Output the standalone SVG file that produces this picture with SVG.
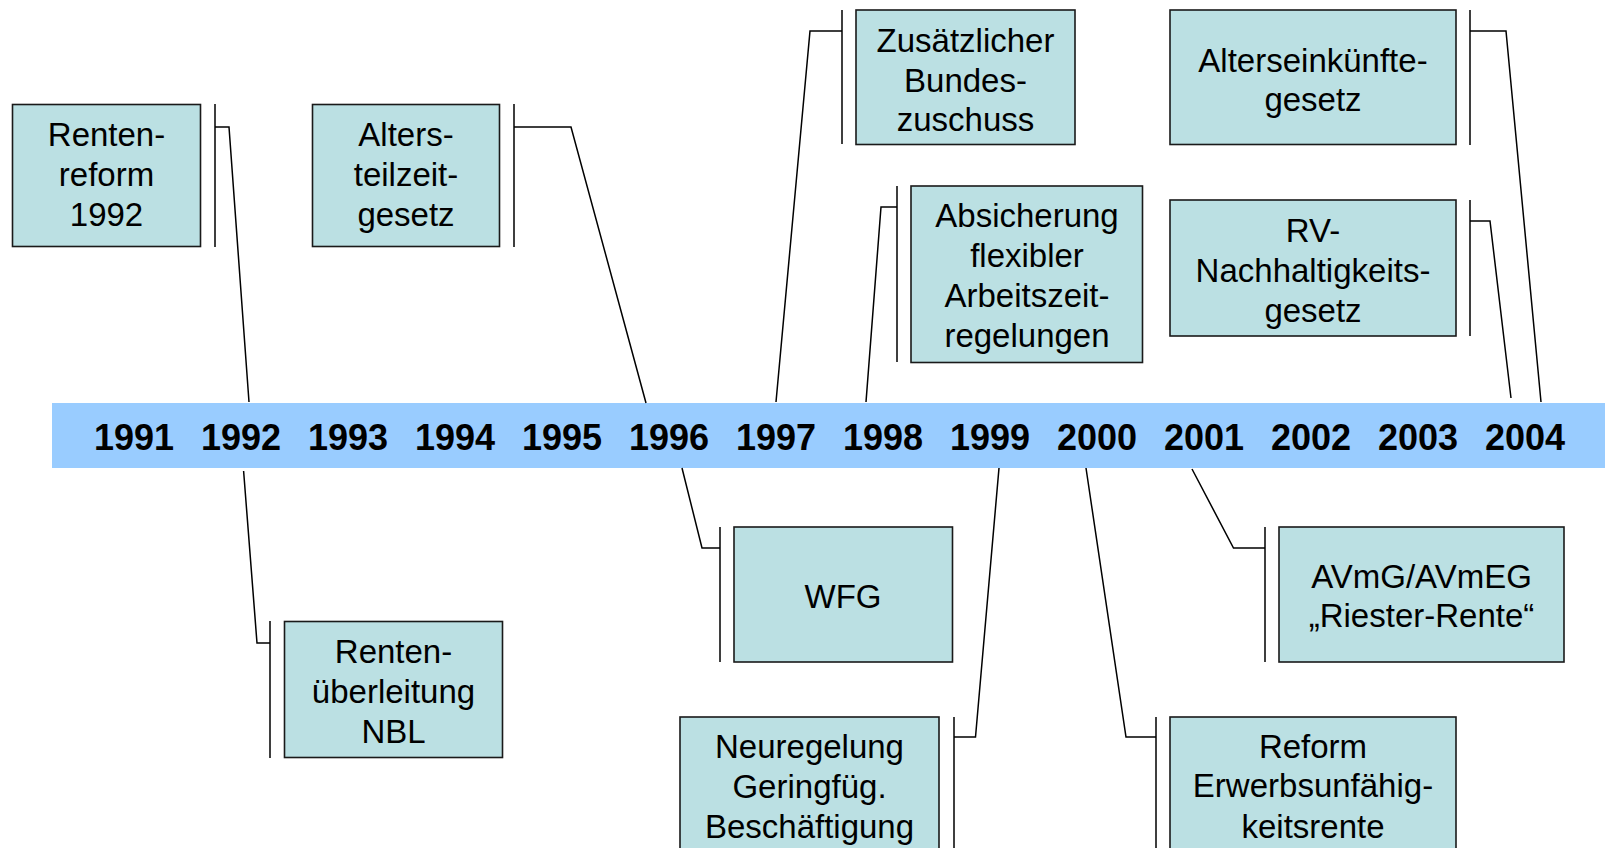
<svg xmlns="http://www.w3.org/2000/svg" width="1605" height="848" viewBox="0 0 1605 848">
<style>
.box{fill:#BBE0E3;stroke:#1a1a1a;stroke-width:1.6}
.t{font-family:"Liberation Sans",Arial,sans-serif;font-size:33px;fill:#000;text-anchor:middle}
.yr{font-family:"Liberation Sans",Arial,sans-serif;font-size:36px;font-weight:bold;fill:#000;text-anchor:middle}
.ln{fill:none;stroke:#000;stroke-width:1.5}
</style>
<rect width="1605" height="848" fill="#fff"/>
<g id="timeline">
<rect x="52" y="403" width="1553" height="65" fill="#99CCFF"/>
<text class="yr" x="134" y="450">1991</text>
<text class="yr" x="241" y="450">1992</text>
<text class="yr" x="348" y="450">1993</text>
<text class="yr" x="455" y="450">1994</text>
<text class="yr" x="562" y="450">1995</text>
<text class="yr" x="669" y="450">1996</text>
<text class="yr" x="776" y="450">1997</text>
<text class="yr" x="883" y="450">1998</text>
<text class="yr" x="990" y="450">1999</text>
<text class="yr" x="1097" y="450">2000</text>
<text class="yr" x="1204" y="450">2001</text>
<text class="yr" x="1311" y="450">2002</text>
<text class="yr" x="1418" y="450">2003</text>
<text class="yr" x="1525" y="450">2004</text>
</g>
<g id="connectors">
<path class="ln" d="M215 104V247M215 127H229L249 402"/>
<path class="ln" d="M514 104V247M514 127H571L646 403"/>
<path class="ln" d="M842 10V144M842 31H810L776 402"/>
<path class="ln" d="M897 186V362M897 207H881L866 402"/>
<path class="ln" d="M1470 10V145M1470 31H1506L1541 402"/>
<path class="ln" d="M1470 200V336M1470 221H1490L1511 398"/>
<path class="ln" d="M720 527V662M720 548H702L682 468"/>
<path class="ln" d="M954 717V848M954 737H975.5L999 468"/>
<path class="ln" d="M1265 527V662M1265 548H1233.5L1192 469"/>
<path class="ln" d="M1156 717V848M1156 737H1126L1086 468"/>
<path class="ln" d="M270 621V758M270 643H257L243.6 471"/>
</g>
<g id="n-rentenreform">
<rect class="box" x="12.5" y="104.5" width="188" height="142"/>
<text class="t" x="106.5" y="146">Renten-</text>
<text class="t" x="106.5" y="186">reform</text>
<text class="t" x="106.5" y="226">1992</text>
</g>
<g id="n-altersteilzeit">
<rect class="box" x="312.5" y="104.5" width="187" height="142"/>
<text class="t" x="406" y="146">Alters-</text>
<text class="t" x="406" y="186">teilzeit-</text>
<text class="t" x="406" y="226">gesetz</text>
</g>
<g id="n-bundeszuschuss">
<rect class="box" x="856" y="10" width="219" height="134.5"/>
<text class="t" x="965.5" y="52">Zusätzlicher</text>
<text class="t" x="965.5" y="91.5">Bundes-</text>
<text class="t" x="965.5" y="131">zuschuss</text>
</g>
<g id="n-arbeitszeit">
<rect class="box" x="911" y="186" width="231.5" height="176.5"/>
<text class="t" x="1027" y="227">Absicherung</text>
<text class="t" x="1027" y="267">flexibler</text>
<text class="t" x="1027" y="307">Arbeitszeit-</text>
<text class="t" x="1027" y="347">regelungen</text>
</g>
<g id="n-alterseinkuenfte">
<rect class="box" x="1170" y="10" width="286" height="134.5"/>
<text class="t" x="1313" y="72">Alterseinkünfte-</text>
<text class="t" x="1313" y="111">gesetz</text>
</g>
<g id="n-nachhaltigkeit">
<rect class="box" x="1170" y="200" width="286" height="136"/>
<text class="t" x="1313" y="242">RV-</text>
<text class="t" x="1313" y="282">Nachhaltigkeits-</text>
<text class="t" x="1313" y="322">gesetz</text>
</g>
<g id="n-wfg">
<rect class="box" x="734" y="527" width="218.5" height="135"/>
<text class="t" x="843" y="608">WFG</text>
</g>
<g id="n-neuregelung">
<rect class="box" x="680" y="717" width="259" height="150"/>
<text class="t" x="809.5" y="758">Neuregelung</text>
<text class="t" x="809.5" y="798">Geringfüg.</text>
<text class="t" x="809.5" y="838">Beschäftigung</text>
</g>
<g id="n-riester">
<rect class="box" x="1279" y="527" width="285" height="135"/>
<text class="t" x="1421.5" y="588">AVmG/AVmEG</text>
<text class="t" x="1421.5" y="627">„Riester-Rente“</text>
</g>
<g id="n-erwerbsunfaehigkeit">
<rect class="box" x="1170" y="717" width="286" height="150"/>
<text class="t" x="1313" y="758">Reform</text>
<text class="t" x="1313" y="797">Erwerbsunfähig-</text>
<text class="t" x="1313" y="838">keitsrente</text>
</g>
<g id="n-rentenueberleitung">
<rect class="box" x="284.5" y="621.5" width="218" height="136"/>
<text class="t" x="393.5" y="663">Renten-</text>
<text class="t" x="393.5" y="703">überleitung</text>
<text class="t" x="393.5" y="743">NBL</text>
</g>
</svg>
